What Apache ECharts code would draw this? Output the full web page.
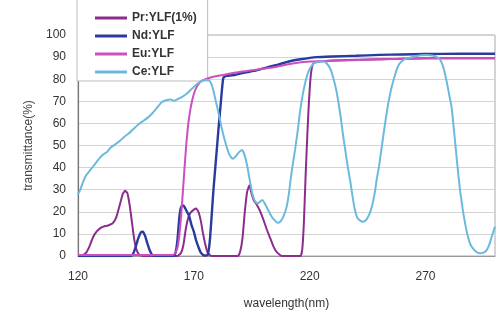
<!DOCTYPE html>
<html>
<head>
<meta charset="utf-8">
<script src="https://cdn.jsdelivr.net/npm/echarts@6/dist/echarts.min.js"></script>
<style>
html,body{margin:0;padding:0;background:#fff;}
#chart{width:503px;height:323px;}
</style>
</head>
<body>
<div id="chart"></div>
<script>
// ---- data (wavelength nm, transmittance %) ----
const seriesNames = ['Pr:YLF(1%)', 'Nd:YLF', 'Eu:YLF', 'Ce:YLF'];
const xTickLabels = [120, 170, 220, 270];
const yTickLabels = [0, 10, 20, 30, 40, 50, 60, 70, 80, 90, 100];

const prYLF = [[120,0],[122,0.3],[123.5,1.5],[125,4.5],[126.5,8.5],[128,11],[129.5,12.5],[131,13.3],[133,13.8],[135,14.8],[136.5,17.5],[138,23],[139.3,28],[140.3,29.5],[141.3,28.5],[142.3,23],[143.2,16],[144.2,8],[145.2,3],[146.5,0.5],[148,0],[163,0],[164.5,1.5],[165.5,5],[166.5,12],[167.5,17],[168.5,19.5],[170,21],[171,21.5],[172,20],[173,16],[174,10],[175,5],[176,1.5],[177.5,0],[189,0],[190,2],[191,8],[192,20],[193,29],[194,32],[195,28],[196,25],[197,23.5],[198.5,20.5],[200,16.5],[201.5,12],[203,8],[204.5,4],[206,1.5],[208,0],[216,0],[216.8,3],[217.5,15],[218.2,35],[219,55],[219.7,70],[220.5,82],[221.5,87],[224,88],[230,88.5],[250,89],[270,89.5],[300,89.5]];

const ndYLF = [[120,0],[143,0],[144,1.5],[145,4.5],[146,8],[147.2,10.8],[148,11],[149,9],[150,5.5],[151,2.5],[152,0.5],[153,0],[161.5,0],[162.3,2.5],[163,8],[163.7,17],[164.3,21.5],[165,23],[165.8,22.5],[166.8,20.5],[168,18],[169,14],[170,11],[171,7],[172,4],[173,1.5],[174.5,0.2],[176,0.5],[177,8],[178.4,29],[179.9,48],[180.6,57],[181.7,70],[182.7,80.5],[184,81.5],[188,82],[192,83],[197,84],[202,85.5],[206,86.5],[211,88],[216,89],[223,90],[230,90.3],[240,90.6],[250,91],[260,91.2],[270,91.4],[285,91.5],[300,91.5]];

const euYLF = [[120,0.5],[161,0.5],[162,1.5],[163,4],[163.8,10],[164.5,18],[165.2,28],[166,40],[166.7,50],[167.5,59],[168.3,65],[169.2,70],[170.2,74],[171.5,77],[173,79],[175,80],[178,81],[182,81.8],[188,83],[195,84],[205,85.5],[212,87],[220,88],[230,88.3],[245,88.8],[260,89.2],[275,89.5],[300,89.5]];

const ceYLF = [[120,28],[121,30],[122,33],[123.5,36.5],[125,38.5],[126.5,40.5],[128,42.5],[129.5,44.5],[131,46],[132.5,47],[134,49],[136,50.5],[138,52],[140,54],[142,55.5],[144,57.5],[146,59.5],[148,61],[150,62.5],[152,64.5],[154,67],[156,69.5],[158,70.5],[160,70.8],[161.5,70.2],[163,71],[165,72],[167,73.5],[169,75.5],[171,77.5],[173,79],[175,79.8],[176.5,79.5],[177.5,78],[178.4,75],[179.5,70],[180.6,65],[181.6,60],[182.7,55],[184,50],[185.3,46],[186.7,44],[188,45],[189.5,47],[190.8,48],[191.8,46],[193,41],[194.2,34],[195.3,28],[196.4,24.8],[197.5,23.8],[198.5,24.5],[199.5,25.3],[200.5,24],[202,21],[203.5,18],[205,16],[206.2,15],[207.3,15.5],[208.5,17.5],[210,22],[211,28],[212.2,38],[213.7,48],[215,58],[215.8,65],[217,73],[218.2,79],[219.3,83],[220.5,85.5],[222,87.3],[224,88],[226,88],[227.5,87],[229,84.5],[230.2,80.5],[231.5,75],[232.5,69],[233.5,62],[234.5,54],[235.5,47],[236.5,40],[237.5,34],[238.5,27],[239.5,21],[240.5,17.5],[241.8,16],[243.1,15.5],[244.5,16.5],[246,19.5],[247,23],[248,28],[249,35],[250,41],[251,48.5],[252,56],[253,63],[254,69.5],[255.4,76.5],[257,82.5],[258.2,86],[260,88.3],[262,89.4],[265,90.2],[268,90.8],[270.5,91],[273,90.7],[275,90],[276.2,89],[277.5,86],[278.5,82],[279.5,77],[280.5,71.5],[281.3,67],[282,60],[282.7,52.5],[283.4,45],[284.1,37.5],[285,29],[286.3,19.5],[287.5,12.5],[288.5,8],[289.5,5],[291,2.8],[292.5,1.5],[293.5,1.2],[295,1.5],[296.4,2.7],[297.5,5],[298.5,8.5],[299.3,11],[300,13.3]];

const seriesData = [prYLF, ndYLF, euYLF, ceYLF];
const seriesColors = ['#8a2d8c', '#2a3a9e', '#cc4fc0', '#6cb9de'];
const seriesWidths = [2, 2.4, 2, 2];

const chart = echarts.init(document.getElementById('chart'), null, {renderer: 'canvas'});
const font = '"Liberation Sans", Arial, sans-serif';

chart.setOption({
  animation: false,
  backgroundColor: '#ffffff',
  textStyle: {fontFamily: font},
  grid: {left: 78, right: 8, top: 35, bottom: 67, show: true, borderColor: '#aaaaaa', borderWidth: 1, backgroundColor: 'transparent'},
  legend: {
    orient: 'vertical', left: 77, top: -1,
    padding: [12, 11, 2, 18],
    itemGap: 4, itemWidth: 32, itemHeight: 3, icon: 'rect',
    backgroundColor: '#ffffff', borderColor: '#bbbbbb', borderWidth: 1,
    textStyle: {fontFamily: font, fontSize: 12, color: '#333', lineHeight: 14, fontWeight: 'bold'},
    data: seriesNames
  },
  xAxis: {
    type: 'value', min: 120, max: 300, interval: 10,
    name: 'wavelength(nm)', nameLocation: 'middle', nameGap: 42,
    nameTextStyle: {fontFamily: font, fontSize: 12, color: '#333'},
    axisLine: {show: true, lineStyle: {color: '#999', width: 1}},
    axisTick: {show: false},
    splitLine: {show: false},
    axisLabel: {
      fontFamily: font, fontSize: 12, color: '#333', margin: 15,
      formatter: v => xTickLabels.indexOf(Math.round(v)) >= 0 ? String(Math.round(v)) : ''
    }
  },
  yAxis: {
    type: 'value', min: 0, max: 100, interval: 10,
    name: 'transmittance(%)', nameLocation: 'middle', nameGap: 41,
    nameTextStyle: {fontFamily: font, fontSize: 12, color: '#444'},
    axisLine: {show: true, lineStyle: {color: '#777', width: 1.2}},
    axisTick: {show: false},
    splitLine: {show: true, lineStyle: {color: '#d4d4d4', width: 1}},
    axisLabel: {
      fontFamily: font, fontSize: 12, color: '#333', margin: 12,
      formatter: v => yTickLabels.indexOf(Math.round(v)) >= 0 ? String(Math.round(v)) : ''
    }
  },
  series: seriesNames.map((name, i) => ({
    name: name, type: 'line', data: seriesData[i],
    showSymbol: false, symbol: 'none', smooth: 0.15,
    color: seriesColors[i],
    lineStyle: {color: seriesColors[i], width: seriesWidths[i]},
    z: 2 + i
  }))
});
</script>
</body>
</html>
